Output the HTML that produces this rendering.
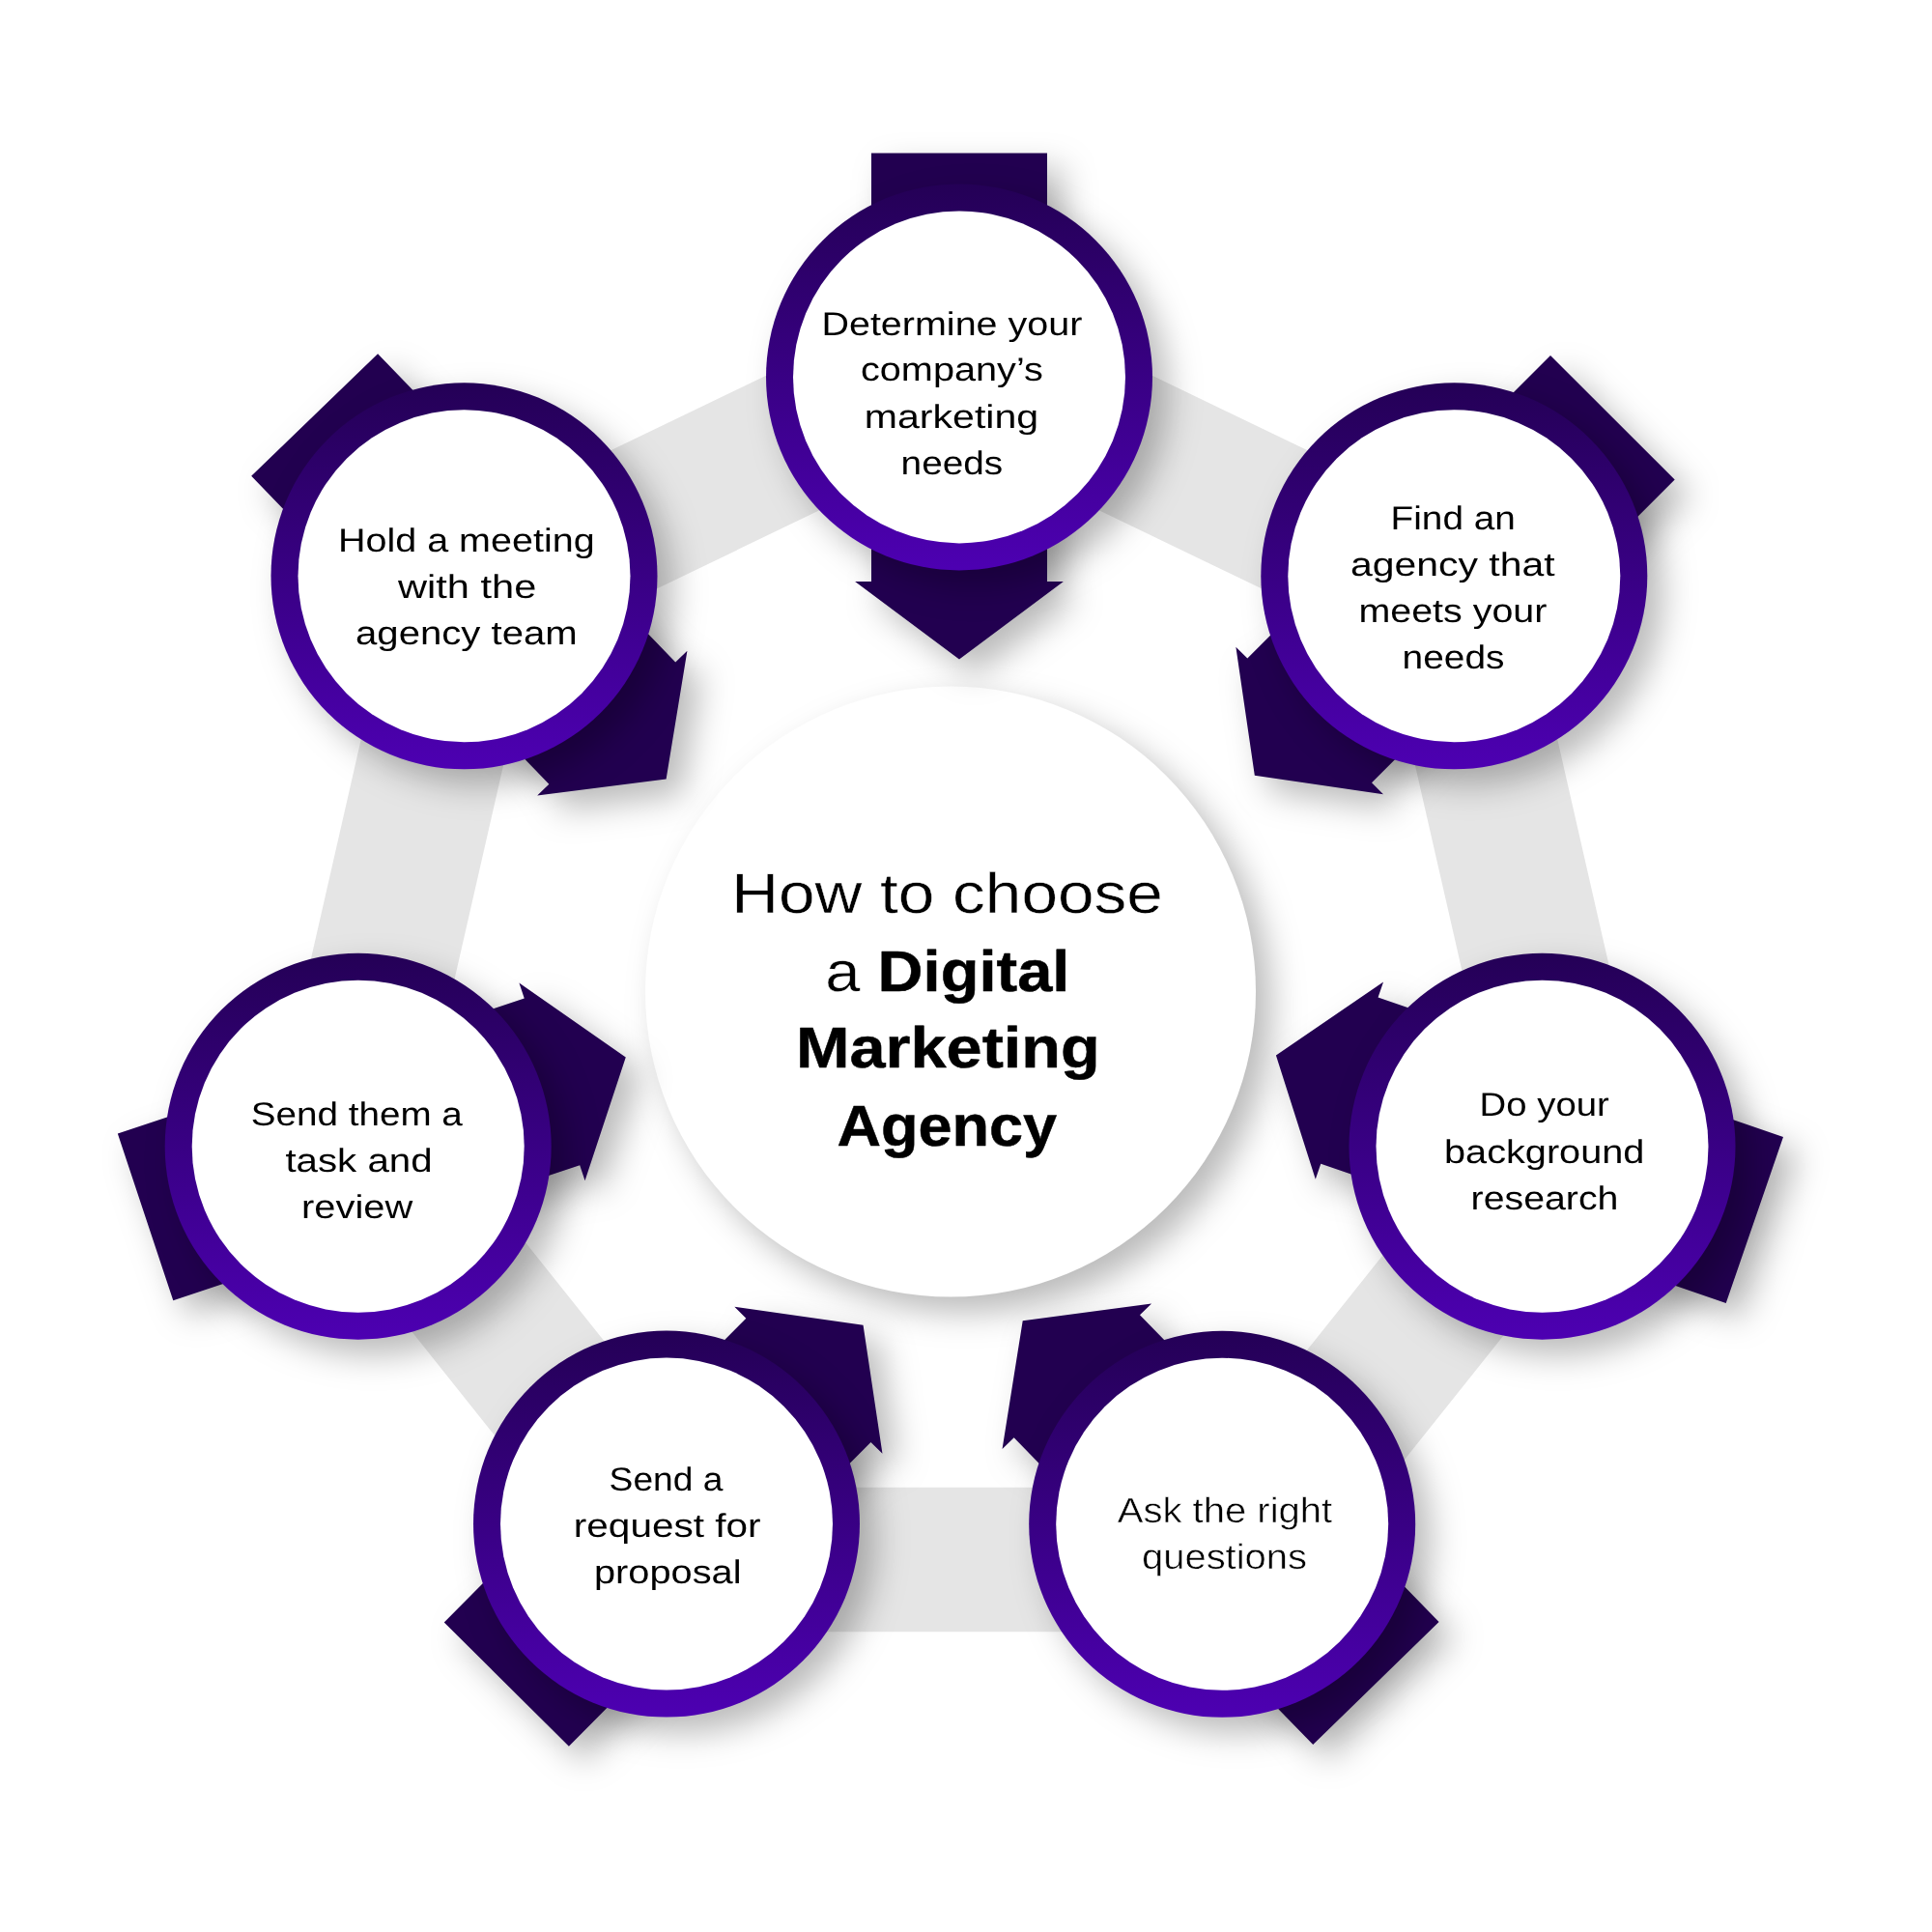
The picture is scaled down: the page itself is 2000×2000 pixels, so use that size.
<!DOCTYPE html><html lang="en"><head><meta charset="utf-8"><title>How to choose a Digital Marketing Agency</title>
<style>html,body{margin:0;padding:0;background:#fff}body{width:2000px;height:2000px;overflow:hidden}svg{display:block}text{font-family:"Liberation Sans",sans-serif;fill:#000}</style></head><body>
<svg width="2000" height="2000" viewBox="0 0 2000 2000">
<defs>
<linearGradient id="rg" x1="0" y1="0" x2="0" y2="1"><stop offset="0" stop-color="#240056"/><stop offset="1" stop-color="#4d00b2"/></linearGradient>
<filter id="sh" x="-30%" y="-30%" width="160%" height="160%" color-interpolation-filters="sRGB">
<feGaussianBlur in="SourceAlpha" stdDeviation="17"/><feOffset dx="16" dy="16" result="b"/>
<feFlood flood-color="#000" flood-opacity="0.27"/><feComposite in2="b" operator="in"/>
<feMerge><feMergeNode/><feMergeNode in="SourceGraphic"/></feMerge></filter>
<filter id="shc" x="-30%" y="-30%" width="160%" height="160%" color-interpolation-filters="sRGB">
<feGaussianBlur in="SourceAlpha" stdDeviation="17"/><feOffset dx="16" dy="16" result="b"/>
<feFlood flood-color="#000" flood-opacity="0.27"/><feComposite in2="b" operator="in"/>
<feMerge><feMergeNode/><feMergeNode in="SourceGraphic"/></feMerge></filter>
</defs>
<rect width="2000" height="2000" fill="#fff"/>
<path fill="#e5e5e5" fill-rule="evenodd" d="M993.0 292.5 L1567.5 569.2 L1709.3 1190.8 L1311.8 1689.3 L674.2 1689.3 L276.7 1190.8 L418.5 569.2Z M993.0 458.6 L1437.6 672.7 L1547.5 1153.9 L1239.8 1539.7 L746.2 1539.7 L438.5 1153.9 L548.4 672.7Z"/>
<g filter="url(#shc)"><circle cx="984.0" cy="1026.6" r="316.0" fill="#fff"/></g>
<g filter="url(#sh)"><polygon fill="#220050" points="-91.0,-232.0 91.0,-232.0 91.0,211.6 107.9,211.6 0.0,292.0 -107.9,211.6 -91.0,211.6" transform="translate(993.0 390.4) rotate(0)"/></g>
<g filter="url(#sh)"><polygon fill="#220050" points="-91.0,-232.0 91.0,-232.0 91.0,211.6 107.9,211.6 0.0,292.0 -107.9,211.6 -91.0,211.6" transform="translate(1505.3 596.3) rotate(45)"/></g>
<g filter="url(#sh)"><polygon fill="#220050" points="-91.0,-232.0 91.0,-232.0 91.0,211.6 107.9,211.6 0.0,292.0 -107.9,211.6 -91.0,211.6" transform="translate(1597.0 1187.5) rotate(109)"/></g>
<g filter="url(#sh)"><polygon fill="#220050" points="-91.0,-232.0 91.0,-232.0 91.0,211.6 107.9,211.6 0.0,292.0 -107.9,211.6 -91.0,211.6" transform="translate(1262.5 1576.3) rotate(135.74)"/></g>
<g filter="url(#sh)"><polygon fill="#220050" points="-91.0,-232.0 91.0,-232.0 91.0,211.6 107.9,211.6 0.0,292.0 -107.9,211.6 -91.0,211.6" transform="translate(687.8 1578.9) rotate(224.8)"/></g>
<g filter="url(#sh)"><polygon fill="#220050" points="-91.0,-232.0 91.0,-232.0 91.0,211.6 107.9,211.6 0.0,292.0 -107.9,211.6 -91.0,211.6" transform="translate(370.7 1186.7) rotate(251.6)"/></g>
<g filter="url(#sh)"><polygon fill="#220050" points="-91.0,-232.0 91.0,-232.0 91.0,211.6 107.9,211.6 0.0,292.0 -107.9,211.6 -91.0,211.6" transform="translate(486.8 596.4) rotate(316)"/></g>
<g filter="url(#sh)"><circle cx="993.0" cy="390.4" r="200.0" fill="url(#rg)"/></g>
<circle cx="993.0" cy="390.4" r="172.0" fill="#fff"/>
<g filter="url(#sh)"><circle cx="1505.3" cy="596.3" r="200.0" fill="url(#rg)"/></g>
<circle cx="1505.3" cy="596.3" r="172.0" fill="#fff"/>
<g filter="url(#sh)"><circle cx="1596.5" cy="1186.7" r="200.0" fill="url(#rg)"/></g>
<circle cx="1596.5" cy="1186.7" r="172.0" fill="#fff"/>
<g filter="url(#sh)"><circle cx="1265.2" cy="1577.8" r="200.0" fill="url(#rg)"/></g>
<circle cx="1265.2" cy="1577.8" r="172.0" fill="#fff"/>
<g filter="url(#sh)"><circle cx="690.0" cy="1577.6" r="200.0" fill="url(#rg)"/></g>
<circle cx="690.0" cy="1577.6" r="172.0" fill="#fff"/>
<g filter="url(#sh)"><circle cx="370.7" cy="1186.7" r="200.0" fill="url(#rg)"/></g>
<circle cx="370.7" cy="1186.7" r="172.0" fill="#fff"/>
<g filter="url(#sh)"><circle cx="480.5" cy="596.3" r="200.0" fill="url(#rg)"/></g>
<circle cx="480.5" cy="596.3" r="172.0" fill="#fff"/>
<g opacity="0.999" text-rendering="geometricPrecision">
<text id="t0_0" x="850.40" y="346.6" font-size="34.2" textLength="270.00" lengthAdjust="spacingAndGlyphs">Determine your</text>
<text id="t0_1" x="891.00" y="394.3" font-size="34.2" textLength="188.80" lengthAdjust="spacingAndGlyphs">company’s</text>
<text id="t0_2" x="894.80" y="442.5" font-size="34.2" textLength="180.40" lengthAdjust="spacingAndGlyphs">marketing</text>
<text id="t0_3" x="932.60" y="490.7" font-size="34.2" textLength="105.60" lengthAdjust="spacingAndGlyphs">needs</text>
<text id="t1_0" x="1439.60" y="547.8" font-size="34.2" textLength="129.20" lengthAdjust="spacingAndGlyphs">Find an</text>
<text id="t1_1" x="1398.00" y="595.9" font-size="34.2" textLength="211.60" lengthAdjust="spacingAndGlyphs">agency that</text>
<text id="t1_2" x="1406.40" y="644.0" font-size="34.2" textLength="195.00" lengthAdjust="spacingAndGlyphs">meets your</text>
<text id="t1_3" x="1451.60" y="691.9" font-size="34.2" textLength="105.80" lengthAdjust="spacingAndGlyphs">needs</text>
<text id="t2_0" x="1531.60" y="1155.2" font-size="34.2" textLength="134.20" lengthAdjust="spacingAndGlyphs">Do your</text>
<text id="t2_1" x="1495.00" y="1203.7" font-size="34.2" textLength="207.40" lengthAdjust="spacingAndGlyphs">background</text>
<text id="t2_2" x="1522.60" y="1251.5" font-size="34.2" textLength="152.80" lengthAdjust="spacingAndGlyphs">research</text>
<text id="t3_0" x="1156.80" y="1576.0" font-size="36.5" textLength="222.40" lengthAdjust="spacingAndGlyphs" stroke="#fff" stroke-width="0.5">Ask the right</text>
<text id="t3_1" x="1182.00" y="1623.6" font-size="36.5" textLength="171.00" lengthAdjust="spacingAndGlyphs" stroke="#fff" stroke-width="0.5">questions</text>
<text id="t4_0" x="630.60" y="1543.4" font-size="34.2" textLength="117.80" lengthAdjust="spacingAndGlyphs">Send a</text>
<text id="t4_1" x="593.80" y="1591.2" font-size="34.2" textLength="193.80" lengthAdjust="spacingAndGlyphs">request for</text>
<text id="t4_2" x="615.00" y="1639.2" font-size="34.2" textLength="152.60" lengthAdjust="spacingAndGlyphs">proposal</text>
<text id="t5_0" x="259.80" y="1164.8" font-size="34.2" textLength="219.00" lengthAdjust="spacingAndGlyphs">Send them a</text>
<text id="t5_1" x="295.40" y="1213.0" font-size="34.2" textLength="152.20" lengthAdjust="spacingAndGlyphs">task and</text>
<text id="t5_2" x="312.00" y="1260.8" font-size="34.2" textLength="115.20" lengthAdjust="spacingAndGlyphs">review</text>
<text id="t6_0" x="350.00" y="571.1" font-size="34.2" textLength="265.60" lengthAdjust="spacingAndGlyphs">Hold a meeting</text>
<text id="t6_1" x="412.00" y="619.3" font-size="34.2" textLength="143.40" lengthAdjust="spacingAndGlyphs">with the</text>
<text id="t6_2" x="368.00" y="667.2" font-size="34.2" textLength="229.80" lengthAdjust="spacingAndGlyphs">agency team</text>
<text id="tc0" x="757.20" y="945.4" font-size="58.5" font-weight="400" textLength="446.60" lengthAdjust="spacingAndGlyphs" stroke="#fff" stroke-width="0.4">How to choose</text>
<text id="tc1" x="854.20" y="1025.6" font-size="58.5" font-weight="400" textLength="36.20" lengthAdjust="spacingAndGlyphs" stroke="#fff" stroke-width="0.4">a</text>
<text id="tc2" x="908.60" y="1025.6" font-size="59.7" font-weight="700" textLength="198.80" lengthAdjust="spacingAndGlyphs" stroke="#000" stroke-width="0.5" stroke-linejoin="round">Digital</text>
<text id="tc3" x="824.00" y="1105.3" font-size="59.7" font-weight="700" textLength="314.80" lengthAdjust="spacingAndGlyphs" stroke="#000" stroke-width="0.5" stroke-linejoin="round">Marketing</text>
<text id="tc4" x="866.40" y="1185.6" font-size="59.7" font-weight="700" textLength="227.80" lengthAdjust="spacingAndGlyphs" stroke="#000" stroke-width="0.5" stroke-linejoin="round">Agency</text>
</g>
</svg></body></html>
